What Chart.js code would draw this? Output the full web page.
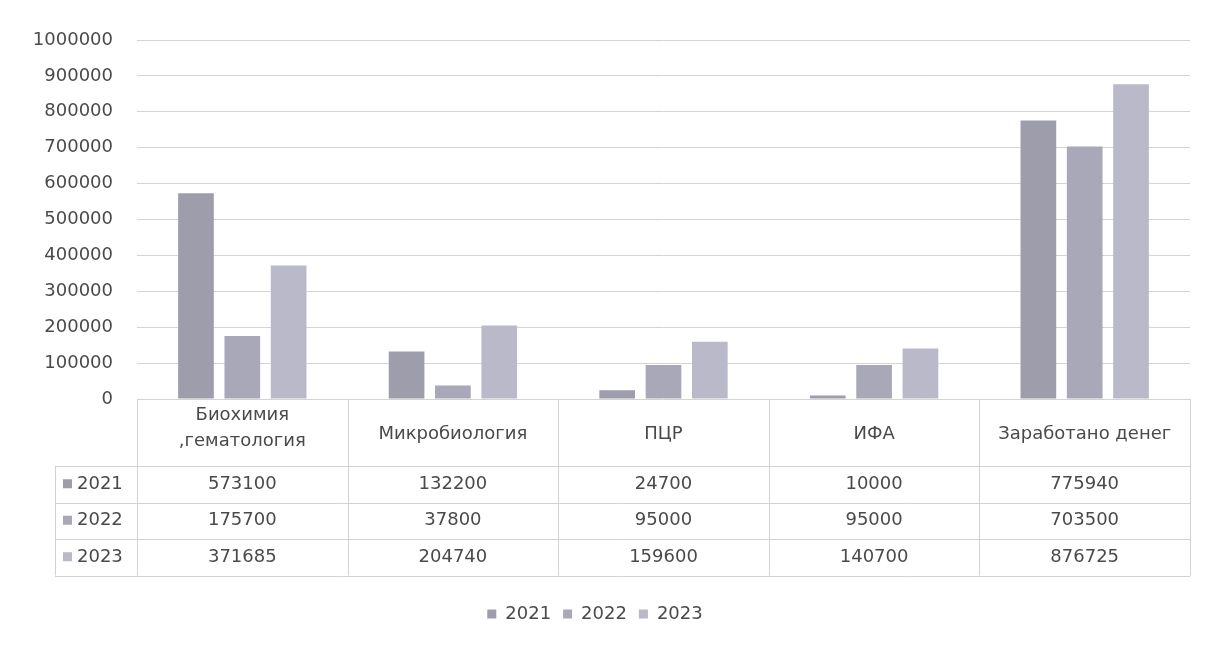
<!DOCTYPE html>
<html>
<head>
<meta charset="utf-8">
<script src="https://cdn.jsdelivr.net/npm/chart.js@4/dist/chart.umd.min.js"></script>
<style>
  html, body { margin: 0; padding: 0; background: #fff; }
  #wrap { width: 1210px; height: 647px; }
</style>
</head>
<body>
<div id="wrap"><canvas id="chart" width="1210" height="647"></canvas></div>
<script>
const categories = [['Биохимия', ',гематология'], 'Микробиология', 'ПЦР', 'ИФА', 'Заработано денег'];
const years = ['2021', '2022', '2023'];
const values2021 = [573100, 132200, 24700, 10000, 775940];
const values2022 = [175700, 37800, 95000, 95000, 703500];
const values2023 = [371685, 204740, 159600, 140700, 876725];
const yTicks = [0, 100000, 200000, 300000, 400000, 500000, 600000, 700000, 800000, 900000, 1000000];
const colors = ['#9d9dab', '#a8a8b8', '#b9b9c9'];

const FONT = '"DejaVu Sans", sans-serif';
const FSIZE = 18;
const TEXT = '#4a4a4a';
const series = [values2021, values2022, values2023];

// draws the data table under the plot, lined up with the x scale
const dataTable = {
  id: 'dataTable',
  afterDraw(chart) {
    const ctx = chart.ctx;
    const x = chart.scales.x;
    const area = chart.chartArea;
    const step = x.getPixelForValue(1) - x.getPixelForValue(0);
    const left = area.left, right = area.right;
    const top = area.bottom;
    const headH = 67, rowH = 36.5;
    const labelLeft = 55;

    ctx.save();
    ctx.strokeStyle = '#d2d2d2';
    ctx.lineWidth = 1;
    for (let r = 0; r <= 3; r++) {
      const y = Math.round(top + headH + r * rowH) + 0.5;
      ctx.beginPath(); ctx.moveTo(labelLeft, y); ctx.lineTo(right, y); ctx.stroke();
    }
    for (let c = 0; c <= categories.length; c++) {
      const xx = Math.round(left + c * step) + 0.5;
      ctx.beginPath(); ctx.moveTo(xx, top); ctx.lineTo(xx, top + headH + 3 * rowH); ctx.stroke();
    }
    ctx.beginPath(); ctx.moveTo(labelLeft + 0.5, top + headH); ctx.lineTo(labelLeft + 0.5, top + headH + 3 * rowH); ctx.stroke();

    ctx.fillStyle = TEXT;
    ctx.font = FSIZE + 'px ' + FONT;
    ctx.textAlign = 'center';
    ctx.textBaseline = 'middle';
    categories.forEach((c, i) => {
      const cx = x.getPixelForValue(i);
      if (Array.isArray(c)) {
        ctx.fillText(c[0], cx, top + 16);
        ctx.fillText(c[1], cx, top + 42);
      } else {
        ctx.fillText(c, cx, top + 35);
      }
    });
    series.forEach((vals, r) => {
      const cy = top + headH + r * rowH + rowH / 2;
      vals.forEach((v, i) => ctx.fillText(String(v), x.getPixelForValue(i), cy));
      ctx.fillStyle = colors[r];
      ctx.fillRect(63, cy - 5, 9, 9);
      ctx.fillStyle = TEXT;
      ctx.textAlign = 'left';
      ctx.fillText(years[r], 77, cy);
      ctx.textAlign = 'center';
    });
    ctx.restore();
  }
};

new Chart(document.getElementById('chart'), {
  type: 'bar',
  data: {
    labels: categories,
    datasets: years.map((y, i) => ({
      label: y,
      data: series[i],
      backgroundColor: colors[i],
      borderWidth: 0,
      categoryPercentage: 0.66,
      barPercentage: 0.77
    }))
  },
  options: {
    responsive: false,
    animation: false,
    layout: { padding: { top: 40, right: 20, bottom: 14, left: 0 } },
    plugins: {
      legend: {
        position: 'bottom',
        labels: {
          font: { family: FONT, size: FSIZE },
          color: TEXT,
          boxWidth: 9,
          boxHeight: 9,
          padding: 12
        }
      },
      tooltip: { enabled: false }
    },
    scales: {
      x: {
        grid: { display: false },
        border: { display: false },
        ticks: { display: false },
        afterFit: s => { s.height = 194; }
      },
      y: {
        min: 0,
        max: 1000000,
        afterBuildTicks: s => { s.ticks = yTicks.map(v => ({ value: v })); },
        afterFit: s => { s.width = 137; },
        grid: { color: '#d4d4d4', drawTicks: false },
        border: { display: false },
        ticks: {
          padding: 24,
          color: TEXT,
          font: { family: FONT, size: FSIZE },
          callback: v => String(v)
        }
      }
    }
  },
  plugins: [dataTable]
});
</script>
</body>
</html>
